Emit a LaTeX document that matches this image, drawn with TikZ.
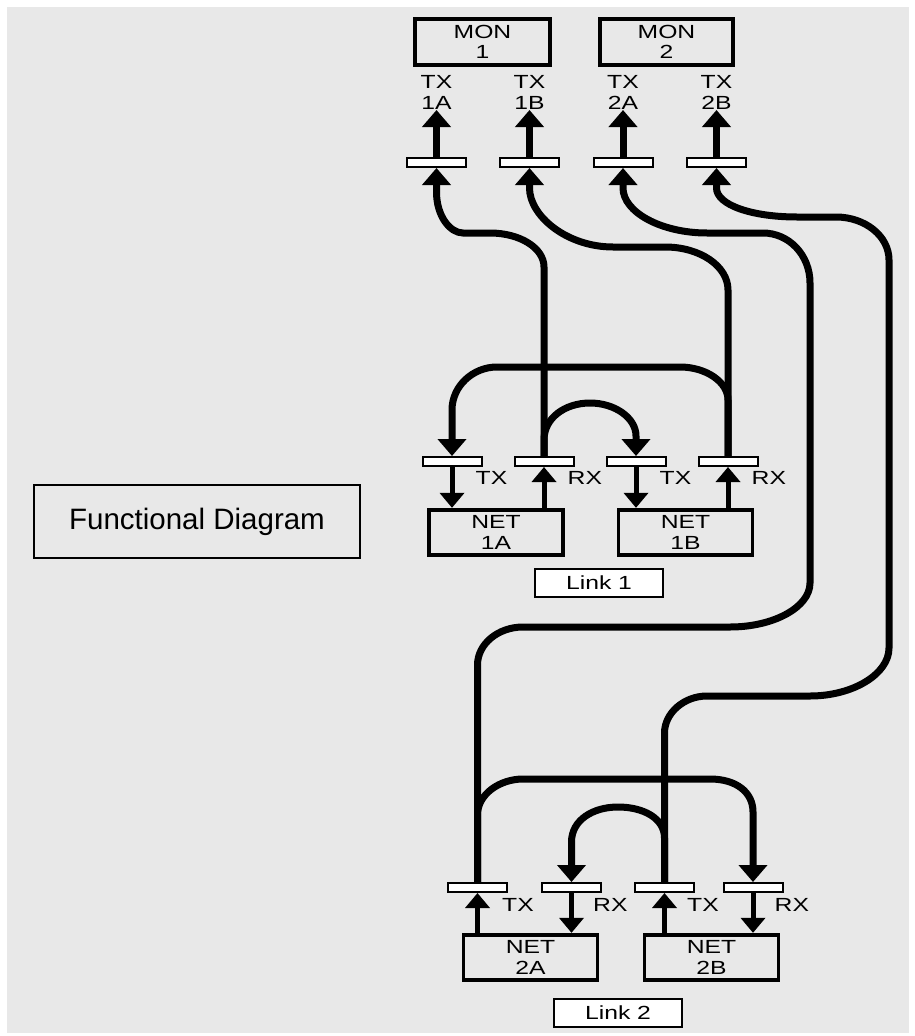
\documentclass[tikz,border=0pt]{standalone}
\usepackage{fontspec}
\setmainfont{Liberation Sans}
\newfontfamily\lblfont[FakeStretch=1.3]{Liberation Sans}
\usetikzlibrary{arrows.meta}
\definecolor{bggray}{HTML}{E8E8E8}
\pgfdeclarelayer{back}
\pgfdeclarelayer{wires}
\pgfsetlayers{back,wires,main}
\tikzset{
  bar/.style={draw, line width=2pt, fill=white, minimum width=59pt, minimum height=9pt, inner sep=0pt},
  unit/.style={draw, line width=3.8pt, inner sep=0pt, align=center, minimum height=45.5pt, minimum width=134pt,
    font=\lblfont\fontsize{19}{20.5}\selectfont},
  tag/.style={draw, line width=2pt, fill=white, inner sep=0pt, minimum width=128pt, minimum height=28pt,
    font=\lblfont\fontsize{19}{20.5}\selectfont},
  lab/.style={inner sep=0pt, align=center, font=\lblfont\fontsize{19}{20.5}\selectfont},
  wire/.style={line width=7pt},
  wirearrow/.style={wire, -{Triangle[length=17pt,width=28pt]}},
  sarrow/.style={line width=5pt, -{Triangle[length=15pt,width=24pt]}},
}
\begin{document}
\begin{tikzpicture}[x=1pt,y=-1pt]
\useasboundingbox (0,0) rectangle (914,1036);
\begin{pgfonlayer}{back}
  \fill[white] (0,0) rectangle (914,1036);
  \fill[bggray] (7,7) rectangle (909,1033);
\end{pgfonlayer}

% title box
\node[draw, line width=2pt, minimum width=326pt, minimum height=73pt, inner sep=0pt,
  font=\fontsize{29.5}{34}\selectfont] (title) at (197,521.5) {Functional Diagram};

% monitors
\node[unit, minimum width=135.5pt, minimum height=46.5pt] (mon1) at (482.5,42) {MON\\1};
\node[unit, minimum width=133.5pt, minimum height=46.5pt] (mon2) at (666.5,42) {MON\\2};

\node[lab] (l1a) at (436.5,92.5) {TX\\1A};
\node[lab] (l1b) at (529.5,92.5) {TX\\1B};
\node[lab] (l2a) at (623,92.5) {TX\\2A};
\node[lab] (l2b) at (716.5,92.5) {TX\\2B};

\coordinate (t1a) at (436.5,110);
\coordinate (t1b) at (529.5,110);
\coordinate (t2a) at (623,110);
\coordinate (t2b) at (716.5,110);

\node[bar] (m1a) at (436.5,162.5) {};
\node[bar] (m1b) at (529.5,162.5) {};
\node[bar] (m2a) at (623,162.5) {};
\node[bar] (m2b) at (716.5,162.5) {};

% link 1
\node[bar] (tx1a) at (452,461.5) {};
\node[bar] (rx1a) at (544,461.5) {};
\node[bar] (tx1b) at (636,461.5) {};
\node[bar] (rx1b) at (728,461.5) {};
\node[unit] (net1a) at (496,532.5) {NET\\1A};
\node[unit] (net1b) at (685.5,532.5) {NET\\1B};
\node[tag] (link1) at (599,583) {Link 1};
\node[lab, anchor=west] (ltx1a) at ([shift={(-7pt,-11pt)}]tx1a.south east) {TX};
\node[lab, anchor=west] (lrx1a) at ([shift={(-7pt,-11pt)}]rx1a.south east) {RX};
\node[lab, anchor=west] (ltx1b) at ([shift={(-7pt,-11pt)}]tx1b.south east) {TX};
\node[lab, anchor=west] (lrx1b) at ([shift={(-7pt,-11pt)}]rx1b.south east) {RX};

% link 2
\node[bar] (tx2a) at (477.5,887.5) {};
\node[bar] (rx2a) at (571.5,887.5) {};
\node[bar] (tx2b) at (664.5,887.5) {};
\node[bar] (rx2b) at (753,887.5) {};
\node[unit] (net2a) at (530.5,957.5) {NET\\2A};
\node[unit] (net2b) at (711.5,957.5) {NET\\2B};
\node[tag] (link2) at (618,1013) {Link 2};
\node[lab, anchor=west] (ltx2a) at ([shift={(-6pt,-12pt)}]tx2a.south east) {TX};
\node[lab, anchor=west] (lrx2a) at ([shift={(-9pt,-12pt)}]rx2a.south east) {RX};
\node[lab, anchor=west] (ltx2b) at ([shift={(-8pt,-12pt)}]tx2b.south east) {TX};
\node[lab, anchor=west] (lrx2b) at ([shift={(-9pt,-12pt)}]rx2b.south east) {RX};

\begin{pgfonlayer}{wires}
% monitor arrows
\draw[wirearrow] (m1a.north) -- (t1a);
\draw[wirearrow] (m1b.north) -- (t1b);
\draw[wirearrow] (m2a.north) -- (t2a);
\draw[wirearrow] (m2b.north) -- (t2b);

% long curves to monitors
\draw[wirearrow] (rx1a.north) -- (544,267) .. controls (544,248) and (520,233) .. (490,233) -- (463,233)
  .. controls (450,233) and (436.5,216) .. (436.5,192) -- (m1a.south);
\draw[wirearrow] (rx1b.north) -- (728,290) .. controls (728,266) and (700,247) .. (665,247) -- (613,247)
  .. controls (567,247) and (529.5,216) .. (529.5,188) -- (m1b.south);
\draw[wirearrow] (tx2a.north) -- (477.5,665) .. controls (477.5,644) and (498,627) .. (523,627) -- (730,627)
  .. controls (774,627) and (810,607) .. (810,583) -- (810,283)
  .. controls (810,255) and (789,233) .. (763,233) -- (707,233)
  .. controls (661,233) and (623,212) .. (623,188) -- (m2a.south);
\draw[wirearrow] (tx2b.north) -- (664.5,733) .. controls (664.5,713) and (684,696) .. (707,696) -- (810,696)
  .. controls (853,696) and (889,674) .. (889,648) -- (889,260)
  .. controls (889,236) and (865,217) .. (836,217) -- (797,217)
  .. controls (752,217) and (716.5,205) .. (716.5,188) -- (m2b.south);

% link 1 loops
\draw[wirearrow] (rx1b.north) -- (728,400) .. controls (728,382) and (706,367) .. (680,367) -- (497,367)
  .. controls (473,367) and (452,386) .. (452,410) -- (tx1a.north);
\draw[wirearrow] (rx1a.north) -- (544,440) .. controls (544,418) and (565,403) .. (590,403)
  .. controls (615,403) and (636,418) .. (636,436) -- (tx1b.north);

% link 2 loops
\draw[wirearrow] (tx2a.north) -- (477.5,815) .. controls (477.5,794) and (500,779) .. (523,779) -- (710,779)
  .. controls (736,779) and (753,792) .. (753,812) -- (rx2b.north);
\draw[wirearrow] (tx2b.north) -- (664.5,838) .. controls (664.5,818) and (643,807) .. (618,807)
  .. controls (593,807) and (571.5,820) .. (571.5,842) -- (rx2a.north);

% bar <-> net arrows
\draw[sarrow] (tx1a.south) -- (tx1a.south |- net1a.north);
\draw[sarrow] (net1a.north -| rx1a.south) -- (rx1a.south);
\draw[sarrow] (tx1b.south) -- (tx1b.south |- net1b.north);
\draw[sarrow] (net1b.north -| rx1b.south) -- (rx1b.south);
\draw[sarrow] (net2a.north -| tx2a.south) -- (tx2a.south);
\draw[sarrow] (rx2a.south) -- (rx2a.south |- net2a.north);
\draw[sarrow] (net2b.north -| tx2b.south) -- (tx2b.south);
\draw[sarrow] (rx2b.south) -- (rx2b.south |- net2b.north);
\end{pgfonlayer}
\end{tikzpicture}
\end{document}
